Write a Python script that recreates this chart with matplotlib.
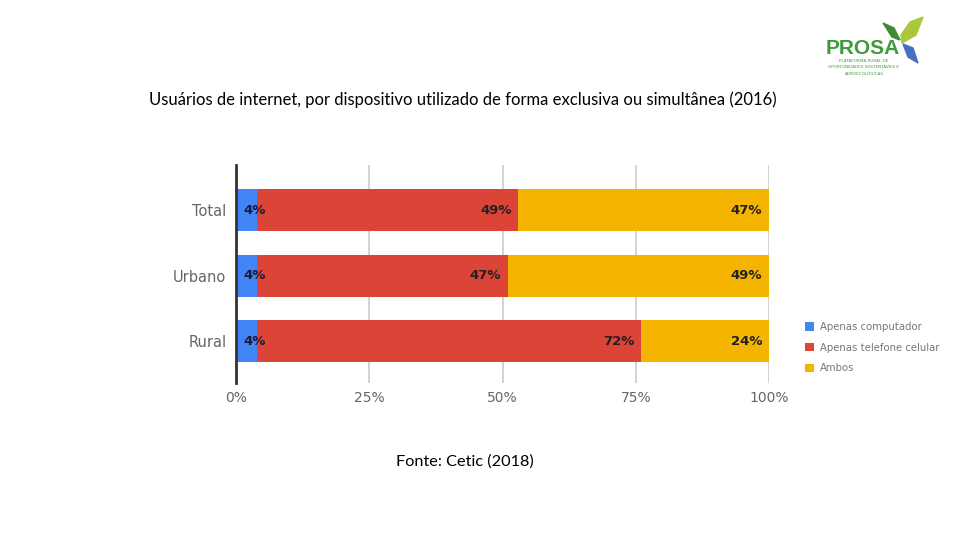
import matplotlib
matplotlib.use("Agg")
from matplotlib import pyplot as plt
from matplotlib.patches import Polygon
import numpy as np

# dados
categorias = ["Total", "Urbano", "Rural"]
apenas_computador = [4, 4, 4]
apenas_celular = [49, 47, 72]
ambos = [47, 49, 24]
series_nomes = ["Apenas computador", "Apenas telefone celular", "Ambos"]
ticks_x = [0, 25, 50, 75, 100]

cor_azul = '#4285F4'
cor_vermelho = '#DB4437'
cor_amarelo = '#F4B400'
cores = [cor_azul, cor_vermelho, cor_amarelo]

plt.rcParams['font.family'] = ['DejaVu Sans']

fig = plt.figure(figsize=(9.6, 5.4), dpi=100)
ax = fig.add_axes([236/960, 1 - 383/540, (769 - 236)/960, (383 - 165)/540])

y = np.arange(len(categorias))
series = [apenas_computador, apenas_celular, ambos]
left = np.zeros(len(categorias))
for i, (vals, cor, nome) in enumerate(zip(series, cores, series_nomes)):
    vals = np.array(vals, dtype=float)
    ax.barh(y, vals, left=left, height=0.64, color=cor, label=nome, zorder=3)
    for j in range(len(categorias)):
        if i == 0:
            ax.annotate(f"{int(vals[j])}%", (left[j], y[j]), xytext=(5, 0),
                        textcoords="offset points", ha="left", va="center",
                        fontsize=9.5, fontweight="bold", color="#1a1a3a", zorder=4)
        else:
            ax.annotate(f"{int(vals[j])}%", (left[j] + vals[j], y[j]), xytext=(-5, 0),
                        textcoords="offset points", ha="right", va="center",
                        fontsize=9.5, fontweight="bold", color="#222222", zorder=4)
    left = left + vals

ax.set_xlim(0, 100)
ax.set_ylim(2.64, -0.69)
ax.set_yticks(y)
ax.set_yticklabels(categorias, fontsize=10.5, color="#666666")
ax.set_xticks(ticks_x)
ax.set_xticklabels([f"{t}%" for t in ticks_x], fontsize=10, color="#666666")
ax.tick_params(axis="y", length=0, pad=7)
ax.tick_params(axis="x", length=0, pad=6)
ax.grid(axis="x", color="#cccccc", linewidth=1.2, zorder=0)
for s in ["top", "right", "bottom"]:
    ax.spines[s].set_visible(False)
ax.spines["left"].set_color("#333333")
ax.spines["left"].set_linewidth(2)
ax.spines["left"].set_zorder(5)

# legenda
fig.legend(loc="upper left", bbox_to_anchor=(796/960, 1 - 313/540), frameon=False,
           fontsize=7.3, labelcolor="#777777", handlelength=0.9, handleheight=0.9,
           handletextpad=0.6, labelspacing=1.05)

# titulo e fonte
fig.text(463/960, 1 - 100/540,
         "Usuários de internet, por dispositivo utilizado de forma exclusiva ou simultânea (2016)",
         ha="center", va="center", fontsize=12, family="Lato")
fig.text(465/960, 1 - 462/540, "Fonte: Cetic (2018)", ha="center", va="center",
         fontsize=11.7, family="Lato")

# logo PROSA
fig.text(826/960, 1 - 48/540, "PROSA", ha="left", va="center", fontsize=15,
         fontweight="bold", color="#3f9b3a", family="Liberation Sans")
for k, linha in enumerate(["PLATAFORMA RURAL DE", "OPORTUNIDADES SUSTENTÁVEIS E",
                           "AGROECOLÓGICAS"]):
    fig.text(864/960, 1 - (61 + k * 6.5)/540, linha, ha="center", va="center",
             fontsize=3, color="#3f9b3a")
leaf = fig.add_axes([880/960, 1 - 80/540, 45/960, 65/540])
leaf.set_xlim(0, 45)
leaf.set_ylim(65, 0)
leaf.axis("off")
leaf.add_patch(Polygon([[3, 8], [14, 13], [20, 25], [12, 22]], closed=True, color="#3d8b37"))
leaf.add_patch(Polygon([[43, 2], [30, 7], [21, 20], [22, 28], [36, 20]], closed=True, color="#a9c83a"))
leaf.add_patch(Polygon([[23, 29], [33, 33], [38, 48], [28, 42]], closed=True, color="#4a6fbf"))

fig.savefig("out.png", dpi=100)
